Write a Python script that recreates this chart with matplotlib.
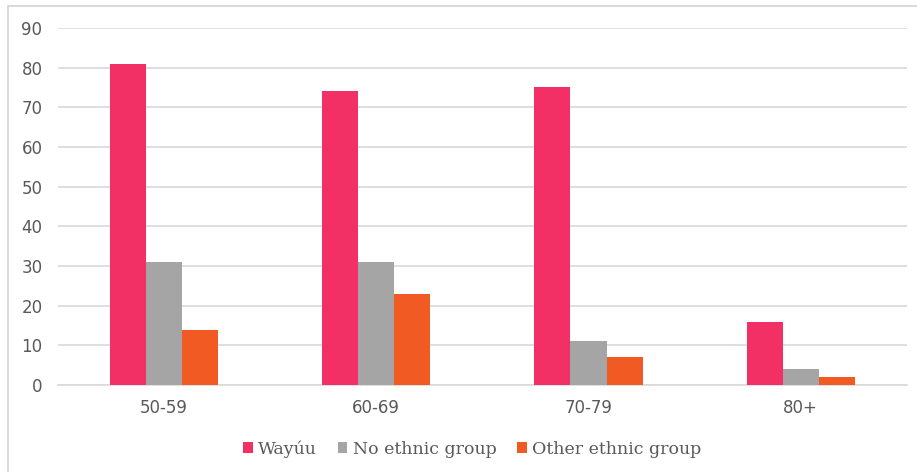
import matplotlib.pyplot as plt
import numpy as np
from matplotlib.patches import Rectangle

categories = ['50-59', '60-69', '70-79', '80+']
wayuu = [81, 74, 75, 16]
no_ethnic = [31, 31, 11, 4]
other_ethnic = [14, 23, 7, 2]

series = [('Wayúu', wayuu, '#F23065'),
          ('No ethnic group', no_ethnic, '#A5A5A5'),
          ('Other ethnic group', other_ethnic, '#F15A22')]

fig = plt.figure(figsize=(9.17, 4.72), dpi=100)
ax = fig.add_axes([0.063, 0.184, 0.926, 0.757])

# light frame round the chart (open at right and bottom, as cropped)
fig.patches.append(Rectangle((8 / 917, -0.05), 1.0, 466 / 472 + 0.05, transform=fig.transFigure,
                             fill=False, edgecolor='#D9D9D9', linewidth=1.4))

x = np.arange(len(categories))
w = 0.17
for i, (name, vals, col) in enumerate(series):
    ax.bar(x + (i - 1) * w, vals, w, color=col, label=name, zorder=3)

ax.set_xlim(-0.5, len(categories) - 0.5)
ax.set_ylim(0, 90)
ax.set_yticks(range(0, 91, 10))
ax.set_xticks(x)
ax.set_xticklabels(categories)
ax.grid(axis='y', color='#D9D9D9', linewidth=1.2, zorder=0)
for s in ['top', 'right', 'left']:
    ax.spines[s].set_visible(False)
ax.spines['bottom'].set_color('#D9D9D9')
ax.spines['bottom'].set_linewidth(1.2)
ax.tick_params(length=0, colors='#595959', labelsize=12)
ax.tick_params(axis='x', pad=10)
ax.tick_params(axis='y', pad=11)

leg = fig.legend(loc='center', bbox_to_anchor=(0.515, 0.048), ncol=3, frameon=False,
                 prop={'family': 'DejaVu Serif', 'size': 12.5}, handlelength=0.55, handleheight=0.6,
                 handletextpad=0.3, columnspacing=1.2)
for t in leg.get_texts():
    t.set_color('#595959')

fig.savefig('out.png', dpi=100)
